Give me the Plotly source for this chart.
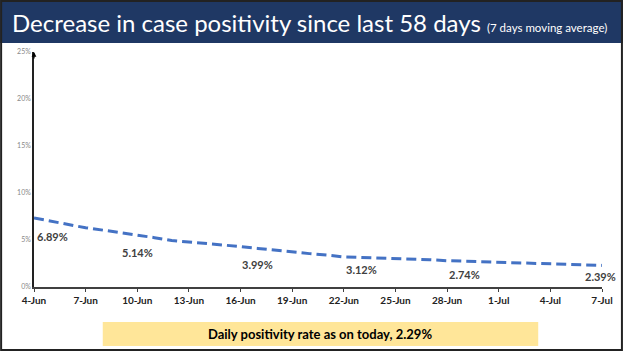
import plotly.graph_objects as go

dates = ["2020-06-%02d" % d for d in range(4, 31)] + ["2020-07-%02d" % d for d in range(1, 8)]
positivity = [7.35, 7.0, 6.65, 6.3, 6.05, 5.8, 5.55, 5.25, 4.95, 4.8, 4.65, 4.5,
              4.3, 4.1, 3.9, 3.7, 3.55, 3.4, 3.2, 3.15, 3.1, 3.05, 3.0, 2.9,
              2.8, 2.75, 2.7, 2.62, 2.55, 2.5, 2.45, 2.42, 2.4, 2.3]
tick_dates = dates[::3]
tick_labels = ["4-Jun", "7-Jun", "10-Jun", "13-Jun", "16-Jun", "19-Jun", "22-Jun",
               "25-Jun", "28-Jun", "1-Jul", "4-Jul", "7-Jul"]
label_dates = ["2020-06-04", "2020-06-10", "2020-06-17", "2020-06-23", "2020-06-29", "2020-07-07"]
label_texts = ["6.89%", "5.14%", "3.99%", "3.12%", "2.74%", "2.39%"]
label_y = [6.89, 5.14, 3.99, 3.12, 2.74, 2.39]

W, H = 625, 351
L, R, T, B = 34, 21, 52, 64
PW, PH = W - L - R, H - T - B

def px(x):
    return (x - L) / PW

def py(y):
    return (H - B - y) / PH

fig = go.Figure()
fig.add_trace(go.Scatter(
    x=dates, y=positivity, mode="lines",
    line=dict(color="#4472C4", width=3, dash="10px,5px"),
    hoverinfo="skip", showlegend=False,
))

shapes = [
    dict(type="rect", xref="paper", yref="paper", x0=px(0), x1=px(W), y0=py(0), y1=py(43),
         fillcolor="#1F3864", line=dict(width=0), layer="below"),
    dict(type="rect", xref="paper", yref="paper", x0=px(103), x1=px(540), y0=py(322), y1=py(346),
         fillcolor="#FFE699", line=dict(width=0), layer="below"),
    dict(type="rect", xref="paper", yref="paper", x0=px(1), x1=px(W - 1), y0=py(1), y1=py(H - 1),
         fillcolor="rgba(0,0,0,0)", line=dict(color="#222222", width=2)),
]

annotations = [
    dict(xref="paper", yref="paper", x=px(10), y=py(22), xanchor="left", yanchor="middle",
         showarrow=False,
         text="Decrease in case positivity since last 58 days <span style='font-size:11.5px'>(7 days moving average)</span>",
         font=dict(family="Lato", size=24, color="white")),
    dict(xref="paper", yref="paper", x=px(321), y=py(334), xanchor="center", yanchor="middle",
         showarrow=False, text="<b>Daily positivity rate as on today, 2.29%</b>",
         font=dict(family="Lato", size=13, color="black")),
    dict(xref="paper", yref="paper", x=0, y=1.0, ax=0, ay=8,
         showarrow=True, arrowhead=2, arrowsize=0.8, arrowwidth=1.2, arrowcolor="black", text=""),
]
offsets = [(18, 14), (0, 14), (0, 15), (0, 12), (0, 13), (-2, 12)]
for d, t, yv, (dx, dy) in zip(label_dates, label_texts, label_y, offsets):
    annotations.append(dict(x=d, y=yv, text="<b>" + t + "</b>", showarrow=False,
                            xshift=dx, yshift=-dy, font=dict(family="Lato", size=11, color="#404040")))

fig.update_layout(
    width=W, height=H, margin=dict(l=L, r=R, t=T, b=B),
    paper_bgcolor="white", plot_bgcolor="white",
    shapes=shapes, annotations=annotations,
    xaxis=dict(type="date", range=[dates[0], dates[-1]], tickvals=tick_dates,
               ticktext=["<b>" + t + "</b>" for t in tick_labels],
               showgrid=False, zeroline=False, showline=True, linecolor="#404040", linewidth=1.5,
               ticks="outside", ticklen=3, tickcolor="#404040",
               tickfont=dict(family="Lato", size=10, color="#222222")),
    yaxis=dict(range=[0, 25], tickvals=[0, 5, 10, 15, 20, 25],
               ticktext=["0%", "5%", "10%", "15%", "20%", "25%"],
               showgrid=False, zeroline=False, showline=True, linecolor="#222222", linewidth=1.5,
               ticks="", tickfont=dict(family="Lato", size=7, color="#888888")),
)

fig.write_html("out.html")
